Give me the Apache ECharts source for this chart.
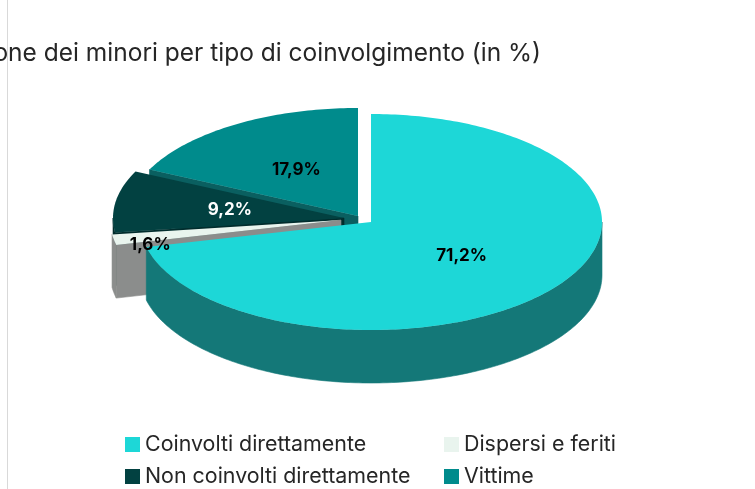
<!DOCTYPE html>
<html><head><meta charset="utf-8">
<style>html,body{margin:0;padding:0;background:#fff}#c{width:755px;height:489px}</style>
<script src="https://cdn.jsdelivr.net/npm/echarts@6/dist/echarts.min.js"></script>
</head><body><div id="c"></div>
<script>
const categories = ['Coinvolti direttamente','Dispersi e feriti','Non coinvolti direttamente','Vittime'];
const values = [71.2, 1.6, 9.2, 17.9];
const labels = ['71,2%','1,6%','9,2%','17,9%'];
const titleText = 'Distribuzione dei minori per tipo di coinvolgimento (in %)';

const topColors = ['#1dd7d7','#e9f4ee','#024141','#008b8c'];
const wallColors = ['#147878','#8b8d8c','#012d2d','#0a5f60'];
const labelColors = ['#000','#000','#fff','#000'];
const explode = [[0,0],[-30,-2],[-27,-4],[-13,-6]];
const labelPos = [[.5,0],[.84,8],[.5,0],[.5,0]];
const legendPos = [[125,434],[444,434],[125,466],[444,466]];
const CX=371, CY=222, RX=231, RY=108, DEPTH=53;
const FONT='"Inter"';

const total = values.reduce((a,b)=>a+b,0);
const bounds=[]; { let s=0; values.forEach(v=>{ bounds.push([s/total*360,(s+v)/total*360]); s+=v; }); }
const rad=d=>d*Math.PI/180;

function renderSlice(i){
  return function(){
    const [a,b]=bounds[i], cx=CX+explode[i][0], cy=CY+explode[i][1];
    const pt=(d,z)=>[cx+RX*Math.sin(rad(d)), cy-RY*Math.cos(rad(d))+(z||0)];
    const children=[];
    const wallStyle={fill:wallColors[i],stroke:wallColors[i],lineWidth:0.6};
    const face=d=>({type:'polygon',shape:{points:[[cx,cy],pt(d),pt(d,DEPTH),[cx,cy+DEPTH]]},style:wallStyle,silent:true});
    if(Math.sin(rad(a))<-1e-6) children.push(face(a));
    if(Math.sin(rad(b))>1e-6) children.push(face(b));
    const w0=Math.max(a,90), w1=Math.min(b,270);
    if(w1>w0){
      const up=[],down=[];
      for(let d=w0;;d+=1){const q=Math.min(d,w1);up.push(pt(q));down.unshift(pt(q,DEPTH));if(q>=w1)break;}
      children.push({type:'polygon',shape:{points:up.concat(down)},style:wallStyle,silent:true});
    }
    const top=[[cx,cy]];
    for(let d=a;;d+=1){const q=Math.min(d,b);top.push(pt(q));if(q>=b)break;}
    children.push({type:'polygon',shape:{points:top},style:{fill:topColors[i]},silent:true});
    return {type:'group',children};
  };
}
function renderLabel(){
  return {type:'group',children:values.map((v,i)=>{
    const [a,b]=bounds[i], m=(a+b)/2, f=labelPos[i][0];
    const x=CX+explode[i][0]+RX*f*Math.sin(rad(m));
    const y=CY+explode[i][1]-RY*f*Math.cos(rad(m))+labelPos[i][1];
    return {type:'text',x,y,style:{text:labels[i],fill:labelColors[i],font:'bold 17px '+FONT,textAlign:'center',textVerticalAlign:'middle'},silent:true};
  })};
}
const order=[3,2,1,0];
const series=order.map(i=>({
  type:'custom',name:categories[i],coordinateSystem:'none',data:[[values[i]]],
  renderItem:renderSlice(i),itemStyle:{color:topColors[i]},silent:true,z:2
}));
series.push({type:'custom',name:'etichette',coordinateSystem:'none',data:[[0]],renderItem:renderLabel,silent:true,z:5});

const chart=echarts.init(document.getElementById('c'),null,{renderer:'canvas'});
chart.setOption({
  animation:false,backgroundColor:'#fff',
  title:{text:titleText,right:214,top:41,padding:0,textStyle:{fontFamily:FONT,fontSize:24.5,fontWeight:'normal',color:'#262626'}},
  legend:categories.map((c,i)=>({
    left:legendPos[i][0],top:legendPos[i][1],padding:0,itemWidth:15,itemHeight:15,icon:'rect',selectedMode:false,
    textStyle:{fontFamily:FONT,fontSize:21.4,color:'#262626'},data:[c]
  })),
  graphic:[{type:'line',shape:{x1:7.5,y1:0,x2:7.5,y2:489},style:{stroke:'#d9d9d9',lineWidth:1},z:0,silent:true}],
  series
});
</script></body></html>
